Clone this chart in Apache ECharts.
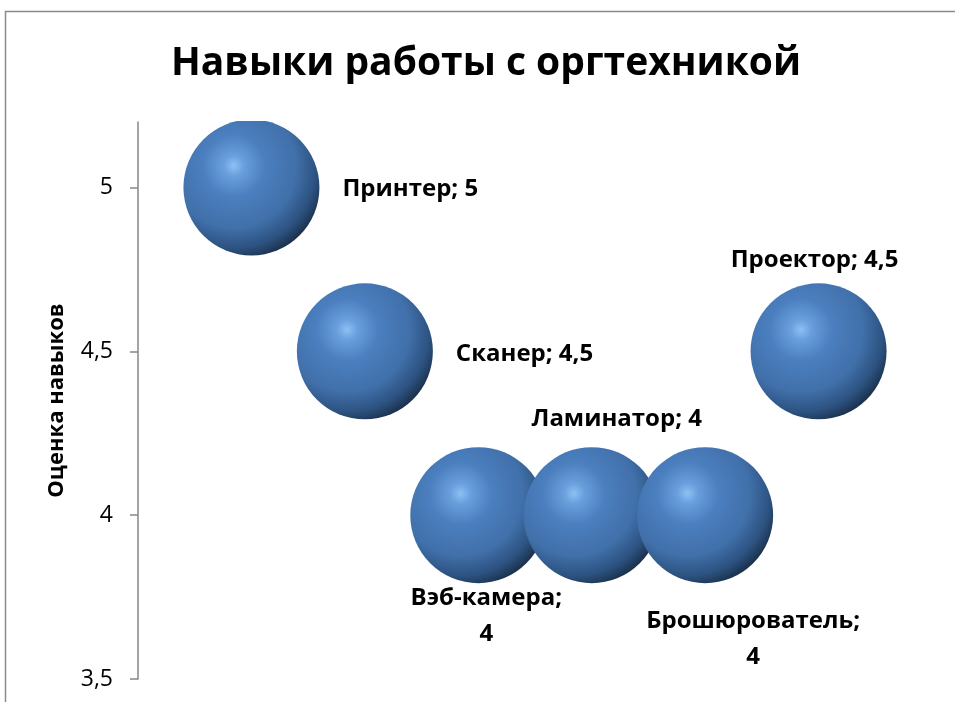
<!DOCTYPE html>
<html>
<head>
<meta charset="utf-8">
<script src="https://cdn.jsdelivr.net/npm/echarts@6/dist/echarts.min.js"></script>
<style>
html,body{margin:0;padding:0;background:#fff;}
#chart{width:955px;height:702px;}
</style>
</head>
<body>
<div id="chart"></div>
<script>
// ---- data ----
var chartTitle = 'Навыки работы с оргтехникой';
var yAxisTitle = 'Оценка навыков';
var categories = ['Принтер', 'Сканер', 'Вэб-камера', 'Ламинатор', 'Брошюрователь', 'Проектор'];
var xValues = [1, 2, 3, 4, 5, 6];
var scores = [5, 4.5, 4, 4, 4, 4.5];
var bubbleSizes = [1, 1, 1, 1, 1, 1];
var yTicks = [3.5, 4, 4.5, 5];
var yTickLabels = ['3,5', '4', '4,5', '5'];

// ---- label styling (placement, not data) ----
var labelAlign = ['left', 'left', 'center', 'center', 'center', 'center'];
var labelOffsets = [[91, 2], [91, 3], [8, 101], [25, -96], [48, 124], [-4, -91]];
var labelWrap = [false, false, true, false, true, false];

var FONT = 'Open Sans';
var maxBubble = 136;

function fmt(v) { return String(v).replace('.', ','); }

var maxSize = Math.max.apply(null, bubbleSizes);
var seriesData = categories.map(function (c, i) {
  return {
    name: c,
    value: [xValues[i], scores[i], bubbleSizes[i]],
    label: {
      align: labelAlign[i],
      formatter: c + (labelWrap[i] ? ';\n' : '; ') + fmt(scores[i])
    }
  };
});

var sphere = {
  type: 'radial', x: 0.37, y: 0.34, r: 0.76,
  colorStops: [
    { offset: 0, color: '#8dc0f4' },
    { offset: 0.1, color: '#6a9fdd' },
    { offset: 0.3, color: '#4b7fbf' },
    { offset: 0.6, color: '#4170aa' },
    { offset: 0.8, color: '#2c5280' },
    { offset: 1, color: '#111d2e' }
  ]
};

var chart = echarts.init(document.getElementById('chart'), null, { renderer: 'canvas' });
chart.setOption({
  backgroundColor: '#ffffff',
  animation: false,
  title: {
    text: chartTitle,
    left: 481, top: 39,
    textAlign: 'center',
    textStyle: { fontFamily: FONT, fontWeight: 'bold', fontSize: 39, color: '#000' },
    z: 10
  },
  grid: { left: 138, right: 23, top: 122, bottom: 23 },
  xAxis: { type: 'value', min: 0, max: 7, show: false },
  yAxis: {
    type: 'value', min: 3.5, max: 5.2, interval: 0.5,
    name: yAxisTitle, nameLocation: 'middle', nameRotate: 90, nameGap: 70,
    nameTextStyle: { fontFamily: FONT, fontWeight: 'bold', fontSize: 22, color: '#000' },
    axisLine: { show: true, lineStyle: { color: '#868686', width: 1.5 } },
    axisTick: { show: true, length: 8, inside: false, customValues: yTicks, lineStyle: { color: '#868686', width: 1.5 } },
    axisLabel: {
      customValues: yTicks,
      margin: 25,
      fontFamily: FONT, fontSize: 23, color: '#000',
      formatter: function (v) {
        var k = yTicks.indexOf(v);
        return k >= 0 ? yTickLabels[k] : '';
      }
    },
    splitLine: { show: false }
  },
  graphic: [
    { type: 'rect', z: 5, silent: true, shape: { x: 6, y: 12, width: 960, height: 109 }, style: { fill: '#fff' } },
    { type: 'polyline', z: 20, silent: true, shape: { points: [[5.5, 720], [5.5, 11.5], [960, 11.5]] }, style: { stroke: '#8a8a8a', lineWidth: 1.5, fill: null } }
  ],
  series: [{
    type: 'scatter',
    z: 2,
    data: seriesData,
    symbol: 'circle',
    symbolSize: function (val) { return maxBubble * Math.sqrt(val[2] / maxSize); },
    itemStyle: { color: sphere, opacity: 1 },
    label: {
      show: true,
      position: 'inside',
      verticalAlign: 'middle',
      lineHeight: 36,
      fontFamily: FONT, fontWeight: 'bold', fontSize: 24, color: '#000',
      textBorderWidth: 0, opacity: 1
    },
    labelLayout: function (params) {
      var o = labelOffsets[params.dataIndex];
      return { dx: o[0], dy: o[1], hideOverlap: false };
    },
    emphasis: { disabled: true }
  }]
});
</script>
</body>
</html>
